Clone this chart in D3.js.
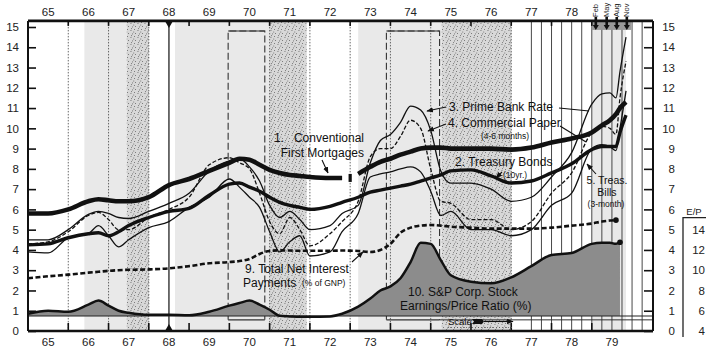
<!DOCTYPE html>
<html>
<head>
<meta charset="utf-8">
<script src="https://cdn.jsdelivr.net/npm/d3@7"></script>
<style>
body { margin: 0; background: #fff; }
svg { display: block; font-family: "Liberation Sans", Arial, sans-serif; }
</style>
</head>
<body>
<div id="chart"></div>
<script>

// time points (decimal years) shared by all series
const dates = [1965.0, 1965.5, 1966.0, 1966.5, 1966.75, 1967.0, 1967.25, 1967.5, 1968.0, 1968.5,
  1969.0, 1969.5, 1970.0, 1970.25, 1970.5, 1970.75, 1971.0, 1971.25, 1971.5, 1971.75,
  1972.0, 1972.5, 1972.8, 1973.2, 1973.5, 1973.75, 1974.0, 1974.25, 1974.5, 1974.75,
  1975.0, 1975.25, 1975.5, 1976.0, 1976.5, 1977.0, 1977.5, 1978.0, 1978.5, 1979.0,
  1979.25, 1979.45, 1979.6, 1979.7, 1979.85]

const mortgages = [5.8, 5.8, 6.0, 6.4, 6.5, 6.45, 6.4, 6.4, 6.6, 7.2,
  7.5, 7.9, 8.3, 8.5, 8.45, 8.2, 7.95, 7.8, 7.7, 7.65,
  7.6, 7.55, 7.55, 7.75, 8.1, 8.35, 8.5, 8.7, 8.85, 9.0,
  9.05, 9.05, 9.0, 9.0, 9.0, 8.95, 9.05, 9.3, 9.5, 9.8,
  10.15, 10.4, 10.7, 11.0, 11.3]

const treasuryBonds = [4.25, 4.3, 4.6, 4.8, 4.85, 4.7, 4.9, 5.2, 5.6, 5.9,
  6.05, 6.7, 7.25, 7.3, 7.1, 6.9, 6.6, 6.35, 6.2, 6.1,
  6.0, 6.15, 6.35, 6.6, 6.85, 6.95, 7.05, 7.15, 7.25, 7.4,
  7.55, 7.7, 7.9, 7.95, 7.65, 7.3, 7.4, 7.8, 8.25, 8.95,
  9.1, 9.1, 9.1, 9.8, 10.65]

const primeRate = [4.5, 4.5, 5.0, 5.75, 5.9, 5.8, 5.6, 5.55, 5.9, 6.3,
  6.8, 7.9, 8.4, 8.5, 8.1, 7.4, 6.2, 5.6, 5.9, 5.5,
  5.0, 5.2, 5.8, 6.2, 8.3, 9.4, 9.7, 10.3, 11.1, 10.9,
  9.9, 7.9, 7.3, 7.3, 7.0, 6.4, 6.6, 7.6, 8.8, 11.2,
  11.7, 11.75, 11.5, 12.8, 14.5]

const commercialPaper = [4.3, 4.4, 4.9, 5.7, 5.85, 5.5, 5.0, 5.0, 5.6, 6.0,
  6.6, 8.2, 8.55, 8.3, 8.0, 6.8, 5.4, 4.8, 5.6, 5.0,
  4.2, 4.8, 5.4, 6.4, 8.6, 9.0, 9.0, 9.6, 10.4, 10.0,
  8.0, 6.4, 6.3, 5.5, 5.5, 5.0, 5.4, 6.8, 7.8, 9.8,
  10.1, 10.0, 9.7, 11.5, 13.3]

const treasuryBills = [3.9, 3.85, 4.6, 4.8, 5.2, 4.7, 4.15, 4.5, 5.1, 5.4,
  6.1, 6.6, 7.5, 7.1, 6.6, 6.1, 4.9, 3.9, 4.4, 4.7,
  3.7, 3.9, 4.9, 5.8, 7.6, 7.75, 7.85, 8.0, 8.1, 7.85,
  6.9, 5.7, 5.9, 5.0, 5.0, 4.7, 5.0, 6.2, 6.8, 9.0,
  9.2, 9.1, 8.9, 10.0, 11.85]

const interestPayments = [2.6, 2.7, 2.78, 2.88, 2.92, 2.97, 3.0, 3.02, 3.04, 3.09,
  3.2, 3.34, 3.4, 3.45, 3.55, 3.8, 3.95, 3.98, 3.97, 3.96,
  3.96, 3.96, 3.97, 3.95, 3.9, 4.0, 4.3, 4.85, 5.1, 5.2,
  5.23, 5.2, 5.15, 5.1, 5.05, 5.05, 5.05, 5.1, 5.2, 5.3,
  5.4, 5.45, 5.47, null, null]

// S&P earnings/price ratio, in percent (E/P scale on the right)
const earningsPrice = [5.7, 6.0, 5.9, 6.6, 7.0, 6.5, 6.0, 5.8, 5.6, 5.6,
  5.55, 5.9, 6.5, 6.76, 7.0, 6.6, 6.1, 5.5, 5.44, 5.4,
  5.4, 5.44, 5.7, 6.4, 7.2, 8.0, 8.4, 9.2, 10.8, 12.7,
  12.6, 11.0, 9.5, 8.86, 8.7, 9.3, 10.4, 11.5, 11.7, 12.6,
  12.7, 12.7, 12.6, 12.76, null]

const topYears = ["65", "66", "67", "68", "69", "70", "71", "72", "73", "74", "75", "76", "77", "78"]
const bottomYears = ["65", "66", "67", "68", "69", "70", "71", "72", "73", "74", "75", "76", "77", "78", "79"]
const months = ["Feb", "May", "Aug", "Nov"]
const monthPos = [1979.1, 1979.37, 1979.62, 1979.87]
const rateTicks = d3.range(0, 16)
const epTicks = [4, 6, 8, 10, 12, 14]

const lightBands = [[1966.4, 1967.45], [1968.65, 1971.0], [1973.2, 1975.27], [1979.0, 1979.85]]
const stippleBands = [[1967.45, 1968.0], [1971.0, 1971.92], [1975.27, 1977.0]]
const dottedLines = [1966, 1967, 1968, 1971, 1972, 1973, 1974, 1975, 1977]
const quarterLines = d3.range(1977.5, 1980.3, 0.25)
const boxes = [[1969.97, 1970.88], [1973.9, 1975.22]]
const mortgageBreak = 1973.0
const epBaseline = 5.48


const width = 711, height = 351

const svg = d3.select("#chart")
  .append("svg")
  .attr("width", width)
  .attr("height", height)

const x = d3.scaleLinear()
  .domain([1965, 1980.52])
  .range([28, 653])

const y = d3.scaleLinear()
  .domain([0, 15])
  .range([331, 27])

const ep = d3.scaleLinear()
  .domain([4, 14])
  .range([y(0), y(5)])

const yTop = y(15.3), yBot = y(0)
const xLeft = x(1965), xRight = x(1980.52)

// stipple texture
const defs = svg.append("defs")
const pat = defs.append("pattern")
  .attr("id", "stipple")
  .attr("width", 7).attr("height", 7)
  .attr("patternUnits", "userSpaceOnUse")
pat.append("rect").attr("width", 7).attr("height", 7).attr("fill", "#d8d8d8")
const specks = [[1, 1], [4.5, 2], [2, 5], [6, 5.5], [5, 0.2], [0.3, 3.6]]
specks.forEach(s => pat.append("rect").attr("x", s[0]).attr("y", s[1]).attr("width", 0.9).attr("height", 0.9).attr("fill", "#666"))

defs.append("marker")
  .attr("id", "arrow")
  .attr("viewBox", "0 0 10 10")
  .attr("refX", 9).attr("refY", 5)
  .attr("markerWidth", 6).attr("markerHeight", 6)
  .attr("orient", "auto-start-reverse")
  .append("path")
  .attr("d", "M0,1 L10,5 L0,9 Z")
  .attr("fill", "#111")

// background bands
svg.append("g").selectAll("rect")
  .data(lightBands)
  .join("rect")
  .attr("x", d => x(d[0]))
  .attr("width", d => x(d[1]) - x(d[0]))
  .attr("y", yTop)
  .attr("height", yBot - yTop)
  .attr("fill", "#e9e9e9")

svg.append("g").selectAll("rect")
  .data(stippleBands)
  .join("rect")
  .attr("x", d => x(d[0]))
  .attr("width", d => x(d[1]) - x(d[0]))
  .attr("y", yTop)
  .attr("height", yBot - yTop)
  .attr("fill", "url(#stipple)")

// grid lines
svg.append("g").selectAll("line")
  .data(dottedLines)
  .join("line")
  .attr("x1", d => x(d)).attr("x2", d => x(d))
  .attr("y1", yTop).attr("y2", yBot)
  .attr("stroke", "#444")
  .attr("stroke-width", 0.8)
  .attr("stroke-dasharray", "1.5,1.5")

svg.append("g").selectAll("line")
  .data(quarterLines)
  .join("line")
  .attr("x1", d => x(d)).attr("x2", d => x(d))
  .attr("y1", yTop).attr("y2", yBot)
  .attr("stroke", "#333")
  .attr("stroke-width", 0.9)

// the heavy line at mid 1968 with its triangles
svg.append("line")
  .attr("x1", x(1968.5)).attr("x2", x(1968.5))
  .attr("y1", yTop).attr("y2", yBot)
  .attr("stroke", "#222").attr("stroke-width", 1.3)
svg.append("path")
  .attr("d", `M${x(1968.5) - 4},${yTop} L${x(1968.5) + 4},${yTop} L${x(1968.5)},${yTop + 7} Z`)
  .attr("fill", "#111")
svg.append("path")
  .attr("d", `M${x(1968.5) - 4},${yBot} L${x(1968.5) + 4},${yBot} L${x(1968.5)},${yBot - 7} Z`)
  .attr("fill", "#111")

// dashed boxes
boxes.forEach(b => {
  const g = svg.append("g").attr("stroke", "#333").attr("fill", "none")
  g.append("path")
    .attr("d", `M${x(b[0])},${y(0.55)} L${x(b[0])},${y(14.8)} L${x(b[1])},${y(14.8)} L${x(b[1])},${y(0.55)}`)
    .attr("stroke-width", 1.1)
    .attr("stroke-dasharray", "7,3")
  g.append("line")
    .attr("x1", x(b[0])).attr("x2", x(b[1]))
    .attr("y1", y(14.8)).attr("y2", y(14.8))
    .attr("stroke-width", 1.1)
  g.append("line")
    .attr("x1", x(b[0])).attr("x2", x(b[1]))
    .attr("y1", y(0.55)).attr("y2", y(0.55))
    .attr("stroke-width", 1.1)
})

// S&P earnings/price area
const epData = dates.map((d, i) => [d, earningsPrice[i]])
const area = d3.area()
  .defined(d => d[1] != null)
  .x(d => x(d[0]))
  .y0(ep(epBaseline))
  .y1(d => ep(d[1]))
  .curve(d3.curveMonotoneX)

svg.append("path")
  .datum(epData)
  .attr("d", area)
  .attr("fill", "#8c8c8c")

svg.append("line")
  .attr("x1", xLeft).attr("x2", xRight)
  .attr("y1", ep(epBaseline)).attr("y2", ep(epBaseline))
  .attr("stroke", "#222").attr("stroke-width", 1.2)
svg.append("line")
  .attr("x1", x(1975.22)).attr("x2", xRight)
  .attr("y1", y(0.55)).attr("y2", y(0.55))
  .attr("stroke", "#333").attr("stroke-width", 1)

const line = d3.line()
  .defined(d => d[1] != null)
  .x(d => x(d[0]))
  .y(d => y(d[1]))
  .curve(d3.curveMonotoneX)

const epLine = d3.line()
  .defined(d => d[1] != null)
  .x(d => x(d[0]))
  .y(d => ep(d[1]))
  .curve(d3.curveMonotoneX)

svg.append("path")
  .datum(epData)
  .attr("d", epLine)
  .attr("fill", "none")
  .attr("stroke", "#111")
  .attr("stroke-width", 2.5)

const lastEP = epData.filter(d => d[1] != null).pop()
svg.append("circle")
  .attr("cx", x(lastEP[0])).attr("cy", ep(lastEP[1]))
  .attr("r", 2.8).attr("fill", "#111")

// interest payments
const intData = dates.map((d, i) => [d, interestPayments[i]])
svg.append("path")
  .datum(intData)
  .attr("d", line)
  .attr("fill", "none")
  .attr("stroke", "#111")
  .attr("stroke-width", 2.6)
  .attr("stroke-dasharray", "5,2.5")
const lastInt = intData.filter(d => d[1] != null).pop()
svg.append("circle")
  .attr("cx", x(lastInt[0])).attr("cy", y(lastInt[1]))
  .attr("r", 2.8).attr("fill", "#111")

// thin rate lines
const thin = [
  { values: treasuryBills, dash: null },
  { values: commercialPaper, dash: "4,2" },
  { values: primeRate, dash: null }
]
thin.forEach(s => {
  svg.append("path")
    .datum(dates.map((d, i) => [d, s.values[i]]))
    .attr("d", line)
    .attr("fill", "none")
    .attr("stroke", "#111")
    .attr("stroke-width", 1.3)
    .attr("stroke-dasharray", s.dash)
})

// treasury bonds
svg.append("path")
  .datum(dates.map((d, i) => [d, treasuryBonds[i]]))
  .attr("d", line)
  .attr("fill", "none")
  .attr("stroke", "#111")
  .attr("stroke-width", 3.4)

// mortgages, with the series break early 1973
const mData = dates.map((d, i) => [d, mortgages[i]])
const mParts = [mData.filter(d => d[0] < mortgageBreak), mData.filter(d => d[0] > mortgageBreak)]
mParts.forEach(p => {
  svg.append("path")
    .datum(p)
    .attr("d", line)
    .attr("fill", "none")
    .attr("stroke", "#111")
    .attr("stroke-width", 4.6)
})
svg.append("rect")
  .attr("x", x(mortgageBreak) - 1.6)
  .attr("y", y(7.75))
  .attr("width", 3.2)
  .attr("height", 8)
  .attr("fill", "#111")

// month markers for 1979
svg.append("rect")
  .attr("x", x(1979.0)).attr("y", yTop)
  .attr("width", x(1979.98) - x(1979.0)).attr("height", 9)
  .attr("fill", "#9a9a9a")
svg.append("g").selectAll("path")
  .data(monthPos)
  .join("path")
  .attr("d", d => `M${x(d) - 1.3},${yTop - 4} L${x(d) + 1.3},${yTop - 4} L${x(d) + 1.3},${yTop + 4} L${x(d) + 3},${yTop + 4} L${x(d)},${yTop + 9} L${x(d) - 3},${yTop + 4} L${x(d) - 1.3},${yTop + 4} Z`)
  .attr("fill", "#111")
svg.append("g").selectAll("text")
  .data(months)
  .join("text")
  .attr("transform", (d, i) => `translate(${x(monthPos[i]) + 2.5},${yTop - 4}) rotate(-90)`)
  .attr("font-size", 7.5)
  .attr("fill", "#222")
  .text(d => d)

// frame
svg.append("line").attr("x1", xLeft).attr("x2", xRight).attr("y1", yTop).attr("y2", yTop)
  .attr("stroke", "#111").attr("stroke-width", 2.6)
svg.append("line").attr("x1", xLeft).attr("x2", xRight).attr("y1", yBot).attr("y2", yBot)
  .attr("stroke", "#111").attr("stroke-width", 2.6)
svg.append("line").attr("x1", xLeft).attr("x2", xLeft).attr("y1", yTop).attr("y2", yBot)
  .attr("stroke", "#111").attr("stroke-width", 2)
svg.append("line").attr("x1", xRight).attr("x2", xRight).attr("y1", yTop).attr("y2", yBot)
  .attr("stroke", "#111").attr("stroke-width", 2)

// year ticks on top and bottom
const yearTicks = d3.range(1966, 1980)
svg.append("g").selectAll("line")
  .data(yearTicks)
  .join("line")
  .attr("x1", d => x(d)).attr("x2", d => x(d))
  .attr("y1", yTop).attr("y2", yTop + 5)
  .attr("stroke", "#111").attr("stroke-width", 1.6)
svg.append("g").selectAll("line")
  .data(yearTicks)
  .join("line")
  .attr("x1", d => x(d)).attr("x2", d => x(d))
  .attr("y1", yBot).attr("y2", yBot - 8)
  .attr("stroke", "#111").attr("stroke-width", 1.6)

svg.append("g").selectAll("text")
  .data(topYears)
  .join("text")
  .attr("x", (d, i) => x(1965.5 + i))
  .attr("y", 16)
  .attr("text-anchor", "middle")
  .attr("font-size", 11.5)
  .attr("fill", "#222")
  .text(d => d)

svg.append("g").selectAll("text")
  .data(bottomYears)
  .join("text")
  .attr("x", (d, i) => x(1965.5 + i))
  .attr("y", 346)
  .attr("text-anchor", "middle")
  .attr("font-size", 11.5)
  .attr("fill", "#222")
  .text(d => d)

// rate axes
const leftAxis = d3.axisLeft(y).tickValues(rateTicks).tickSize(-8).tickPadding(9)
svg.append("g")
  .attr("transform", `translate(${xLeft},0)`)
  .call(leftAxis)
  .call(g => g.select(".domain").remove())
  .call(g => g.selectAll("line").attr("stroke", "#111").attr("stroke-width", 1.6))
  .call(g => g.selectAll("text").attr("font-size", 11.5).attr("fill", "#222").attr("font-family", "Liberation Sans, Arial, sans-serif"))

const rightAxis = d3.axisRight(y).tickValues(rateTicks).tickSize(-9).tickPadding(22)
svg.append("g")
  .attr("transform", `translate(${xRight},0)`)
  .call(rightAxis)
  .call(g => g.select(".domain").remove())
  .call(g => g.selectAll("line").attr("stroke", "#111").attr("stroke-width", 1.6))
  .call(g => g.selectAll("text").attr("text-anchor", "end").attr("font-size", 11.5).attr("fill", "#222").attr("font-family", "Liberation Sans, Arial, sans-serif"))

// E/P axis
const epAxis = d3.axisLeft(ep).tickValues(epTicks).tickSize(0).tickPadding(0)
svg.append("g")
  .attr("transform", "translate(705,0)")
  .call(epAxis)
  .call(g => g.select(".domain").remove())
  .call(g => g.selectAll("text").attr("font-size", 11.5).attr("fill", "#222").attr("font-family", "Liberation Sans, Arial, sans-serif"))
svg.append("path")
  .attr("d", `M706,${ep(14) - 12} L683,${ep(14) - 12} L683,${yBot + 6}`)
  .attr("fill", "none").attr("stroke", "#222").attr("stroke-width", 1.3)
svg.append("text")
  .attr("x", 694).attr("y", ep(14) - 15)
  .attr("text-anchor", "middle")
  .attr("font-size", 9.5)
  .attr("fill", "#222")
  .text("E/P")

// annotations
const ann = svg.append("g").attr("fill", "#111")
function label(txt, xp, yp, size, anchor) {
  ann.append("text")
    .attr("x", xp).attr("y", yp)
    .attr("font-size", size)
    .attr("text-anchor", anchor || "start")
    .text(txt)
}
function pointer(x1, y1, x2, y2, head) {
  svg.append("line")
    .attr("x1", x1).attr("y1", y1).attr("x2", x2).attr("y2", y2)
    .attr("stroke", "#111").attr("stroke-width", 1.1)
    .attr("marker-end", head ? "url(#arrow)" : null)
}

label("1.", 274, 142, 12)
label("Conventional", 364, 142, 12, "end")
label("First Mortgages", 364, 157, 12, "end")
pointer(322, 160, 328, 173, true)

label("3. Prime Bank Rate", 449, 111, 12)
pointer(446, 107, 427, 111, true)
pointer(559, 108, 589, 111, false)

label("4. Commercial Paper", 448, 127, 12)
label("(4-6 months)", 505, 138.5, 8.5, "middle")
pointer(446, 124, 428, 131, true)
pointer(560, 126, 586, 142, false)

label("2. Treasury Bonds", 455, 166, 12)
label("(10yr.)", 503, 177.5, 8.5)
pointer(502, 172, 496, 178, true)

label("5. Treas.", 607, 184, 10.5, "middle")
label("Bills", 607, 196, 10.5, "middle")
label("(3-month)", 606, 206.5, 8.5, "middle")
pointer(596, 174, 587, 164, true)

label("9. Total Net Interest", 245, 273, 12)
label("Payments", 243, 287, 12)
label("(% of GNP)", 302, 286, 8.5)
pointer(352, 262, 363, 252, true)

label("10. S&P Corp. Stock", 408, 296, 12)
label("Earnings/Price Ratio (%)", 400, 310, 12)

label("Scale", 448, 325, 9.5)
svg.append("path")
  .attr("d", "M472,319 L482,319 L484,321.5 L482,324 L472,324 L474,321.5 Z")
  .attr("fill", "#111")
pointer(484, 321.5, 513, 321.5, true)
svg.append("line")
  .attr("x1", 448).attr("x2", 512).attr("y1", 327.5).attr("y2", 327.5)
  .attr("stroke", "#555").attr("stroke-width", 0.8).attr("stroke-dasharray", "1,2")

</script>
</body>
</html>
